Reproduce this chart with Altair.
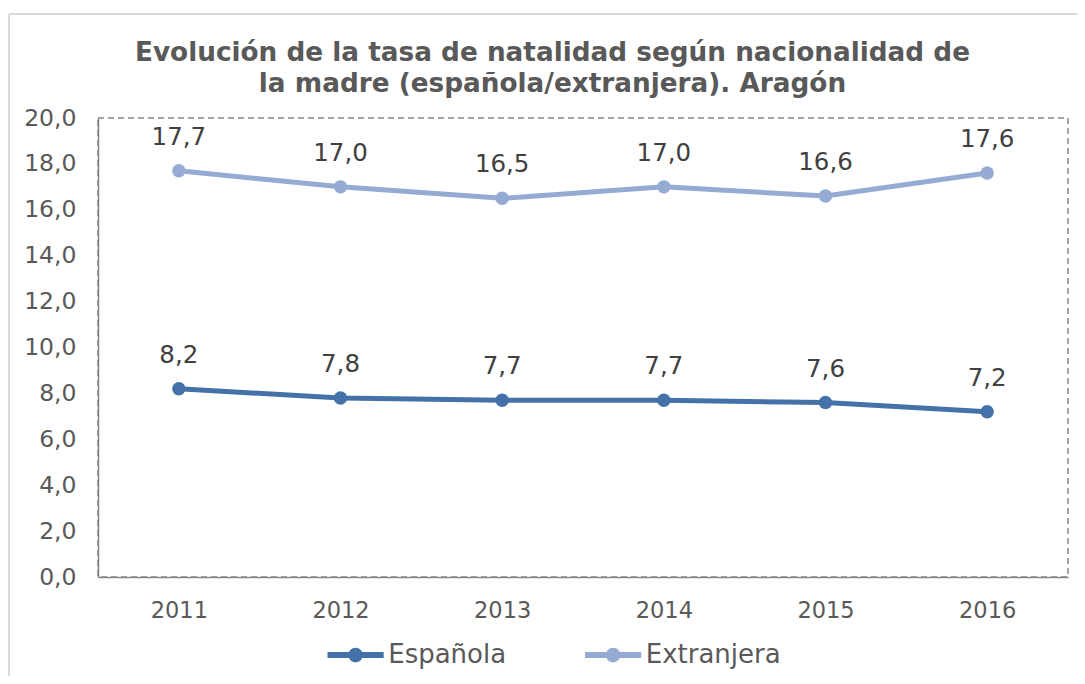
import altair as alt
import pandas as pd

years = ["2011", "2012", "2013", "2014", "2015", "2016"]
espanola = [8.2, 7.8, 7.7, 7.7, 7.6, 7.2]
extranjera = [17.7, 17.0, 16.5, 17.0, 16.6, 17.6]
series = ["Española", "Extranjera"]
colors = ["#4472a8", "#95abd4"]
title_lines = ["Evolución de la tasa de natalidad según nacionalidad de",
               "la madre (española/extranjera). Aragón"]

rows = []
for y, v in zip(years, espanola):
    rows.append({"year": y, "serie": series[0], "value": v})
for y, v in zip(years, extranjera):
    rows.append({"year": y, "serie": series[1], "value": v})
df = pd.DataFrame(rows)

FONT = "DejaVu Sans"
GRAY = "#595959"
AX = "#868686"

sym_path = ("M-2.7,-0.28H2.7V0.28H-2.7Z "
            "M-0.7,0A0.7,0.7,0,1,1,0.7,0A0.7,0.7,0,1,1,-0.7,0Z")

x_enc = alt.X("year:O", title=None,
              scale=alt.Scale(type="point", padding=0.5),
              axis=alt.Axis(labelAngle=0, ticks=False, domainColor=AX, domainWidth=1.5,
                            labelFontSize=22.5, labelFont=FONT, labelColor=GRAY,
                            labelPadding=22, grid=False))
y_enc = alt.Y("value:Q", title=None,
              scale=alt.Scale(domain=[0, 20], nice=False),
              axis=alt.Axis(values=list(range(0, 21, 2)), ticks=False, domainColor=AX,
                            domainWidth=1.5, labelFontSize=23.5, labelFont=FONT,
                            labelColor=GRAY, labelPadding=22, grid=False,
                            labelExpr="replace(format(datum.value, '.1f'), '.', ',')"))
legend = alt.Legend(orient="none", direction="horizontal",
                    legendX=244.6, legendY=524,
                    symbolType=sym_path, symbolSize=433, symbolStrokeWidth=0,
                    labelFontSize=26, labelFont=FONT, labelColor=GRAY,
                    labelOffset=19.6, columnPadding=77.5, padding=0)
color_enc = alt.Color("serie:N", title=None,
                      scale=alt.Scale(domain=series, range=colors), legend=legend)

base = alt.Chart(df)
lines = base.mark_line(strokeWidth=5).encode(x=x_enc, y=y_enc, color=color_enc)
points = base.mark_point(filled=True, size=180, opacity=1).encode(x=x_enc, y=y_enc, color=color_enc)
labels = base.transform_calculate(
    lab="replace(format(datum.value, '.1f'), '.', ',')"
).mark_text(font=FONT, fontSize=24.5, color="#404040", baseline="middle", align="center", dy=-33).encode(
    x=x_enc, y=y_enc, text="lab:N")

one = alt.Data(values=[{}])
title = alt.Chart(one).mark_text(font=FONT, fontSize=26.3, fontWeight="bold", color=GRAY,
                                 align="center", baseline="top", lineHeight=31).encode(
    x=alt.value(454.5), y=alt.value(-78), text=alt.value(title_lines))
border = alt.Chart(one).mark_rule(color="#d9d9d9", strokeWidth=2).encode(
    x=alt.value(-89), y=alt.value(-104), y2=alt.value(700))
border_top = alt.Chart(one).mark_rule(color="#d9d9d9", strokeWidth=2).encode(
    x=alt.value(-89), x2=alt.value(1100), y=alt.value(-104))

chart = alt.layer(border, border_top, title, lines, points, labels).properties(
    width=970, height=459,
    background="white",
    autosize=alt.AutoSizeParams(type="none"),
    padding={"left": 90, "top": 110, "right": 9, "bottom": 99},
).configure_view(stroke=AX, strokeDash=[6, 4], strokeWidth=1.5)

chart.save("out.html", embed_options={"renderer": "svg", "actions": False})
